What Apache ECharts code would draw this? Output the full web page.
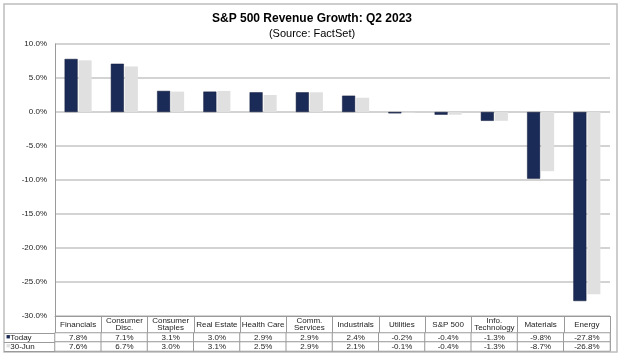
<!DOCTYPE html>
<html><head><meta charset="utf-8">
<script src="https://cdn.jsdelivr.net/npm/echarts@6/dist/echarts.min.js"></script>
<style>html,body{margin:0;padding:0;background:#fff}#c{width:624px;height:360px}</style>
</head><body><div id="c"></div>
<script>
const categories = ["Financials","Consumer\nDisc.","Consumer\nStaples","Real Estate","Health Care","Comm.\nServices","Industrials","Utilities","S&P 500","Info.\nTechnology","Materials","Energy"];
const today = [7.8, 7.1, 3.1, 3.0, 2.9, 2.9, 2.4, -0.2, -0.4, -1.3, -9.8, -27.8];
const jun30 = [7.6, 6.7, 3.0, 3.1, 2.5, 2.9, 2.1, -0.1, -0.4, -1.3, -8.7, -26.8];
const seriesNames = ["Today", "30-Jun"];
const yTicks = {min: -30, max: 10, interval: 5};

const tableData = [];
today.forEach((v, i) => tableData.push([i, 0, v]));
jun30.forEach((v, i) => tableData.push([i, 1, v]));

const FONT = '"Liberation Sans", Arial, sans-serif';
const GRID = '#c4c4c4';
const chart = echarts.init(document.getElementById('c'));
chart.setOption({
  animation: false,
  textStyle: {fontFamily: FONT},
  title: [
    {text: 'S&P 500 Revenue Growth: Q2 2023', left: 'center', top: 8,
     textStyle: {fontSize: 12, fontWeight: 'bold', color: '#000', fontFamily: FONT}},
    {text: '(Source: FactSet)', left: 'center', top: 23,
     textStyle: {fontSize: 11, fontWeight: 'normal', color: '#000', fontFamily: FONT}}
  ],
  graphic: [{type: 'rect', shape: {x: 4, y: 4, width: 613, height: 348},
    style: {fill: 'none', stroke: '#bdbdbd', lineWidth: 1.5}, silent: true}],
  grid: [
    {left: 55, right: 14, top: 44, height: 272},
    {left: 55, right: 14, top: 333, height: 18}
  ],
  xAxis: [
    {type: 'category', gridIndex: 0, data: categories,
     axisLine: {onZero: false, lineStyle: {color: '#9a9a9a'}},
     axisTick: {show: true, interval: 0, length: 35, lineStyle: {color: '#9a9a9a'}},
     axisLabel: {interval: 0, fontSize: 8, color: '#222', lineHeight: 7.5, margin: 8.5,
       verticalAlign: 'middle', fontFamily: FONT},
     splitLine: {show: false}},
    {type: 'category', gridIndex: 1, data: categories, show: false}
  ],
  yAxis: [
    {type: 'value', gridIndex: 0, min: yTicks.min, max: yTicks.max, interval: yTicks.interval,
     axisLine: {show: true, lineStyle: {color: '#9a9a9a'}},
     axisTick: {show: false},
     axisLabel: {fontSize: 8, color: '#222', margin: 8, formatter: v => v.toFixed(1) + '%', fontFamily: FONT},
     splitLine: {lineStyle: {color: GRID, width: 1.5}}},
    {type: 'category', gridIndex: 1, data: seriesNames, inverse: true,
     axisLine: {show: true, lineStyle: {color: '#9a9a9a'}},
     axisTick: {show: true, length: 51, lineStyle: {color: '#9a9a9a'}},
     axisLabel: {interval: 0, fontSize: 8, color: '#222', align: 'left', margin: 49, fontFamily: FONT,
       formatter: (v, i) => (i === 0 ? '{a|■}' : '{b|■}') + v,
       rich: {a: {color: '#1b2b57', fontSize: 7}, b: {color: '#e0e0e0', fontSize: 7}}}}
  ],
  series: [
    {name: seriesNames[0], type: 'bar', data: today, xAxisIndex: 0, yAxisIndex: 0,
     barWidth: 13, barGap: '8%',
     itemStyle: {color: '#1b2b57', borderColor: '#101a3a', borderWidth: 0.5}},
    {name: seriesNames[1], type: 'bar', data: jun30, xAxisIndex: 0, yAxisIndex: 0,
     barWidth: 13, barGap: '8%',
     itemStyle: {color: '#e0e0e0'}},
    {type: 'heatmap', xAxisIndex: 1, yAxisIndex: 1, data: tableData,
     itemStyle: {color: '#fff', borderColor: '#9a9a9a', borderWidth: 1},
     label: {show: true, fontSize: 8, color: '#222', fontFamily: FONT,
       formatter: p => p.value[2].toFixed(1) + '%'}}
  ]
});
</script></body></html>
